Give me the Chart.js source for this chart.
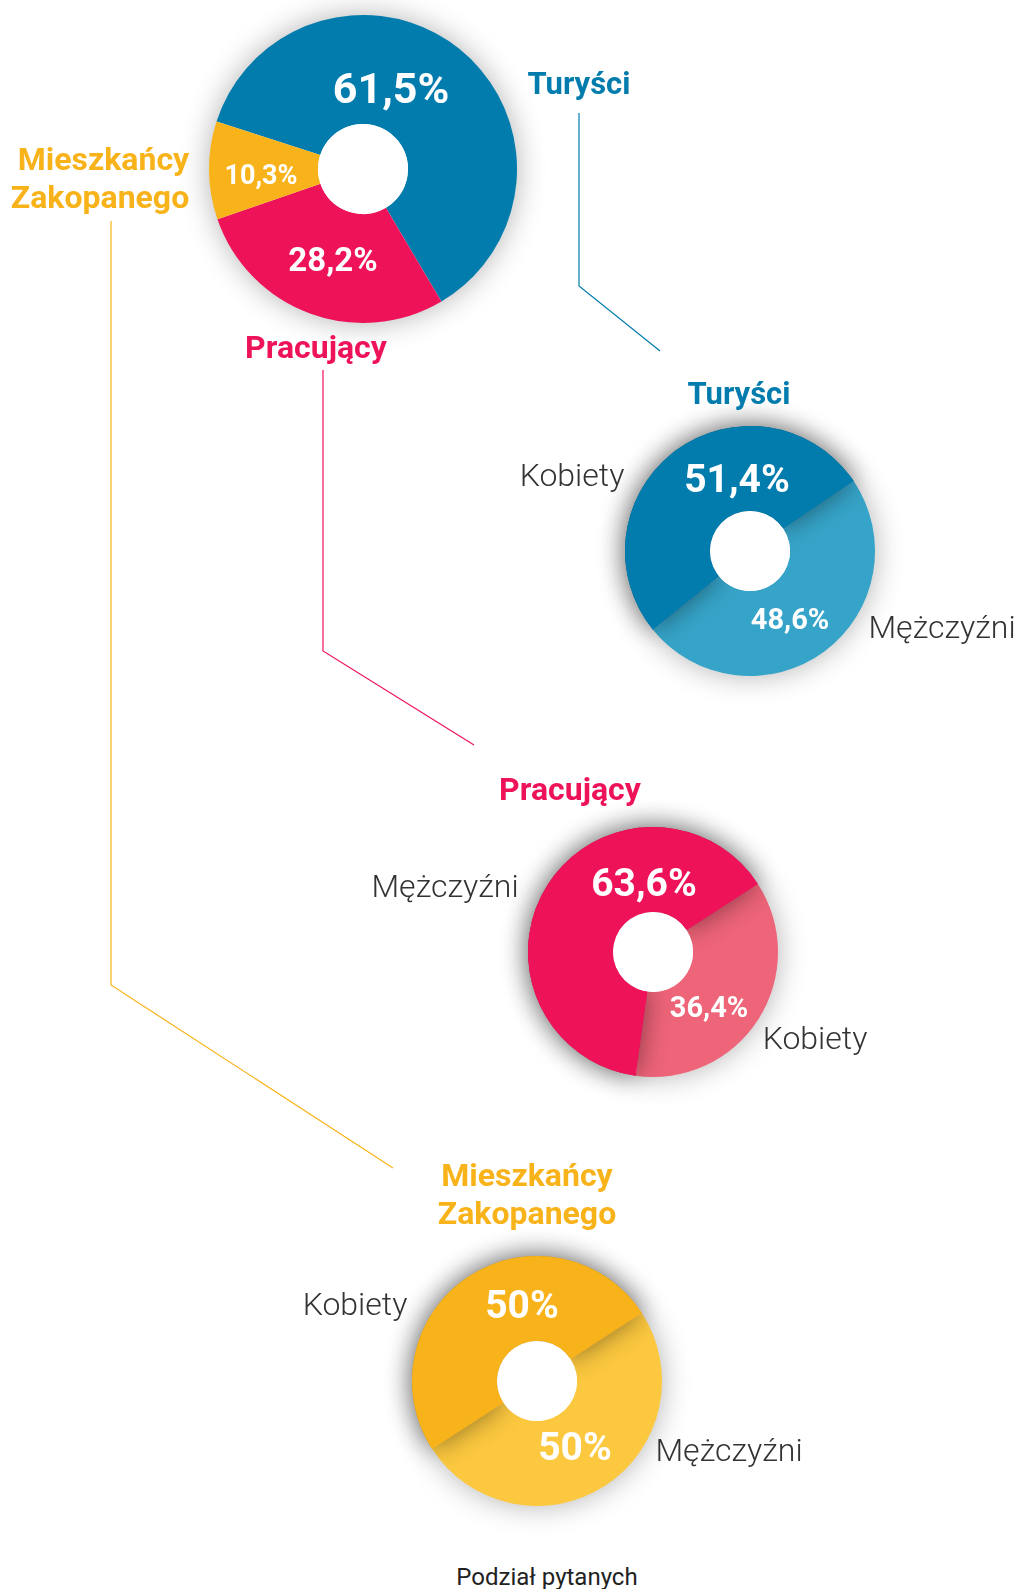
<!DOCTYPE html>
<html>
<head>
<meta charset="utf-8">
<script src="https://cdn.jsdelivr.net/npm/chart.js@4.4.1/dist/chart.umd.min.js"></script>
<style>
  html, body { margin: 0; padding: 0; background: #fff; }
  body { width: 1020px; height: 1589px; position: relative; overflow: hidden; font-family: Roboto, "Noto Sans", sans-serif; }
  .box { position: absolute; }
  .t { position: absolute; white-space: nowrap; transform: translate(-50%, -50%); line-height: 1; }
  .title { font-weight: 700; font-size: 32px; }
  .side { font-weight: 300; font-size: 32px; color: #333; }
  svg { position: absolute; left: 0; top: 0; }
</style>
</head>
<body>

<svg width="1020" height="1589">
  <polyline points="579,113 579,286 660,351" fill="none" stroke="#027CAC" stroke-width="1.2"/>
  <polyline points="323,370 323,651 474,745" fill="none" stroke="#EE1259" stroke-width="1.2"/>
  <polyline points="111,221 111,985 393,1168" fill="none" stroke="#F9B31A" stroke-width="1.2"/>
</svg>

<div class="box" id="b0"><canvas id="c0"></canvas></div>
<div class="box" id="b1"><canvas id="c1"></canvas></div>
<div class="box" id="b2"><canvas id="c2"></canvas></div>
<div class="box" id="b3"><canvas id="c3"></canvas></div>

<div class="t title" style="left:579px;top:83px;color:#027CAC;font-size:31px">Turyści</div>
<div class="t title" style="left:100px;top:178px;color:#F9B31A;text-align:right;line-height:38px">Mieszkańcy<br>Zakopanego</div>
<div class="t title" style="left:316px;top:347px;color:#EE1259">Pracujący</div>

<div class="t title" style="left:739px;top:393px;color:#027CAC;font-size:31px">Turyści</div>
<div class="t title" style="left:570px;top:789px;color:#EE1259">Pracujący</div>
<div class="t title" style="left:527px;top:1194px;color:#F9B31A;text-align:center;line-height:38px">Mieszkańcy<br>Zakopanego</div>

<div class="t side" style="left:572px;top:475px">Kobiety</div>
<div class="t side" style="left:942px;top:627px">Mężczyźni</div>
<div class="t side" style="left:445px;top:886px">Mężczyźni</div>
<div class="t side" style="left:815px;top:1038px">Kobiety</div>
<div class="t side" style="left:355px;top:1304px">Kobiety</div>
<div class="t side" style="left:729px;top:1450px">Mężczyźni</div>

<div class="t" style="left:547px;top:1577px;font-size:24px;color:#222">Podział pytanych</div>

<script>
// podział wszystkich pytanych
const groupLabels = ["Turyści", "Pracujący", "Mieszkańcy Zakopanego"];
const groupValues = [61.5, 28.2, 10.3];

// podział wg płci (kolejność: jaśniejszy kawałek, ciemniejszy kawałek)
const turysciLabels = ["Mężczyźni", "Kobiety"];
const turysciValues = [48.6, 51.4];

const pracujacyLabels = ["Kobiety", "Mężczyźni"];
const pracujacyValues = [36.4, 63.6];

const mieszkancyLabels = ["Mężczyźni", "Kobiety"];
const mieszkancyValues = [50, 50];

const PAD = 40;

function fmt(v) {
  return String(v).replace('.', ',') + '%';
}

// cień pod pierścieniem, cień górnego kawałka, dziura i napisy z wartościami
const ringDecor = {
  id: 'ringDecor',
  beforeDatasetsDraw(chart, args, opts) {
    const a = chart.getDatasetMeta(0).data[0];
    const ctx = chart.ctx;
    ctx.save();
    ctx.shadowColor = 'rgba(0,0,0,0.32)';
    ctx.shadowBlur = 30;
    ctx.fillStyle = '#fff';
    ctx.beginPath();
    ctx.arc(a.x, a.y, a.outerRadius - 1, 0, Math.PI * 2);
    ctx.fill();
    ctx.restore();
  },
  afterDatasetsDraw(chart, args, opts) {
    const meta = chart.getDatasetMeta(0);
    const ctx = chart.ctx;
    const a = meta.data[0];
    if (opts.topSlice != null) {
      ctx.save();
      ctx.shadowColor = 'rgba(0,0,0,0.45)';
      ctx.shadowBlur = 26;
      meta.data[opts.topSlice].draw(ctx);
      ctx.restore();
    }
    ctx.save();
    ctx.fillStyle = '#fff';
    ctx.beginPath();
    ctx.arc(a.x, a.y, a.innerRadius, 0, Math.PI * 2);
    ctx.fill();
    ctx.restore();

    const vals = chart.data.datasets[0].data;
    ctx.save();
    ctx.fillStyle = '#fff';
    ctx.textAlign = 'center';
    ctx.textBaseline = 'middle';
    vals.forEach((v, i) => {
      const off = opts.offsets[i];
      ctx.font = '700 ' + opts.sizes[i] + 'px Roboto';
      ctx.fillText(fmt(v), a.x + off[0], a.y + off[1]);
    });
    ctx.restore();
  }
};

function makeRing(id, cx, cy, R, hole, labels, values, colors, rotation, decor) {
  const box = document.getElementById('b' + id);
  const size = 2 * R + 2 * PAD;
  box.style.left = (cx - size / 2) + 'px';
  box.style.top = (cy - size / 2) + 'px';
  box.style.width = size + 'px';
  box.style.height = size + 'px';
  const ctx = document.getElementById('c' + id).getContext('2d');
  return new Chart(ctx, {
    type: 'doughnut',
    data: {
      labels: labels,
      datasets: [{
        data: values,
        backgroundColor: colors,
        borderWidth: 0
      }]
    },
    options: {
      responsive: true,
      maintainAspectRatio: false,
      animation: false,
      events: [],
      cutout: hole,
      rotation: rotation,
      layout: { padding: PAD },
      plugins: {
        legend: { display: false },
        tooltip: { enabled: false },
        ringDecor: decor
      }
    },
    plugins: [ringDecor]
  });
}

makeRing(0, 363, 169, 154, 45, groupLabels, groupValues,
  ['#027CAC', '#EE1259', '#F9B31A'], -72,
  { offsets: [[28, -77], [-30, 94], [-102, 8]], sizes: [43, 33, 27] });

makeRing(1, 750, 551, 125, 40, turysciLabels, turysciValues,
  ['#36A4C9', '#027CAC'], 56,
  { topSlice: 1, offsets: [[40, 71], [-13, -69]], sizes: [29, 39] });

makeRing(2, 653, 952, 125, 40, pracujacyLabels, pracujacyValues,
  ['#EE6478', '#EE1259'], 57,
  { topSlice: 1, offsets: [[56, 58], [-9, -66]], sizes: [29, 39] });

makeRing(3, 537, 1381, 125, 40, mieszkancyLabels, mieszkancyValues,
  ['#FCC83F', '#F9B31A'], 57,
  { topSlice: 1, offsets: [[38, 69], [-15, -73]], sizes: [39, 39] });
</script>
</body>
</html>
